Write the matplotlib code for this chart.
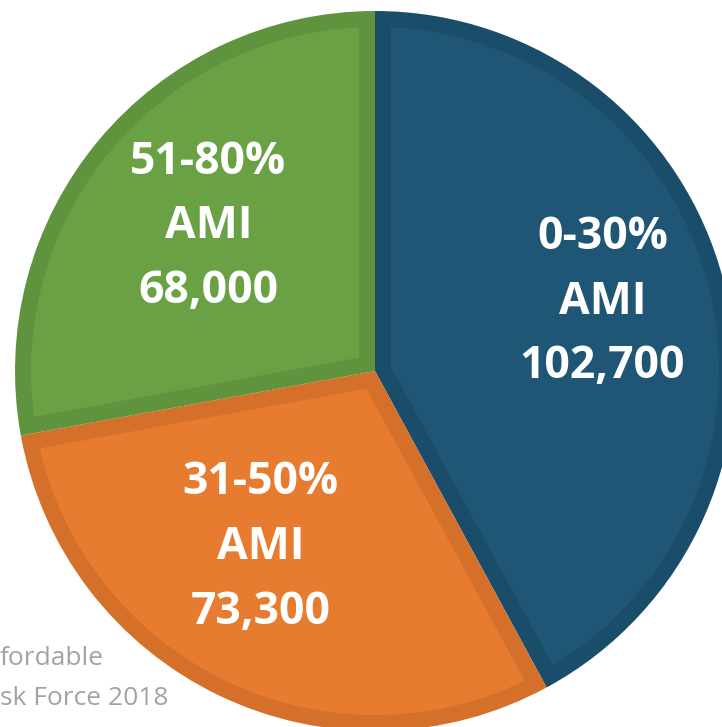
import numpy as np
import matplotlib.pyplot as plt
from matplotlib.patches import Polygon

# data
bands = ["0-30%", "31-50%", "51-80%"]
households = [102700, 73300, 68000]
suffix = "AMI"
fill_colors = ["#1f5675", "#e77c30", "#6aa145"]
edge_colors = ["#1a4d6a", "#d5702a", "#5f933d"]
source_lines = ["fordable", "sk Force 2018"]

W, H = 722, 727
cx, cy, R = 375, 371, 360  # pie centre / radius in pixels
rim = 16.0 / R             # width of the darker rim, data units


def inset_wedge(a1, a2, d):
    # slice shrunk by d on all sides (a1 < a2, degrees)
    half = np.deg2rad(a2 - a1) / 2
    bis = np.deg2rad(a1 + a2) / 2
    apex = d / np.sin(half)
    r = 1 - d
    delta = np.rad2deg(np.arcsin(d / r))
    arc = np.deg2rad(np.linspace(a1 + delta, a2 - delta, 200))
    pts = [(apex * np.cos(bis), apex * np.sin(bis))]
    pts += list(zip(r * np.cos(arc), r * np.sin(arc)))
    return np.array(pts)


fig = plt.figure(figsize=(W / 100, H / 100), dpi=100)
ax = fig.add_axes([0, 0, 1, 1])

wedges, _ = ax.pie(households, colors=edge_colors, startangle=90,
                   counterclock=False, radius=1, center=(0, 0))

for w, fc in zip(wedges, fill_colors):
    a1, a2 = sorted([w.theta1, w.theta2])
    ax.add_patch(Polygon(inset_wedge(a1, a2, rim), closed=True,
                         facecolor=fc, edgecolor="none"))

ax.set_aspect("auto")
ax.set_xlim(-cx / R, (W - cx) / R)
ax.set_ylim((cy - H) / R, cy / R)
ax.axis("off")

# labels
label_r = [0.66, 0.585, 0.612]
label_dtheta = [2.6, -7.4, -1.0]
for w, band, n, r, dt in zip(wedges, bands, households, label_r, label_dtheta):
    mid = np.deg2rad((w.theta1 + w.theta2) / 2 + dt)
    ax.text(r * np.cos(mid), r * np.sin(mid),
            "%s\n%s\n%s" % (band, suffix, format(n, ",")),
            ha="center", va="center", color="white", fontsize=32,
            fontweight="bold", family="Open Sans", linespacing=1.58)

# clipped source note
fig.text(0, 1 - 665 / H, source_lines[0], color="#a3a3a3", fontsize=19,
         family="Open Sans", ha="left", va="baseline")
fig.text(0, 1 - 705 / H, source_lines[1], color="#a3a3a3", fontsize=19,
         family="Open Sans", ha="left", va="baseline")

fig.savefig("out.png", dpi=100)
